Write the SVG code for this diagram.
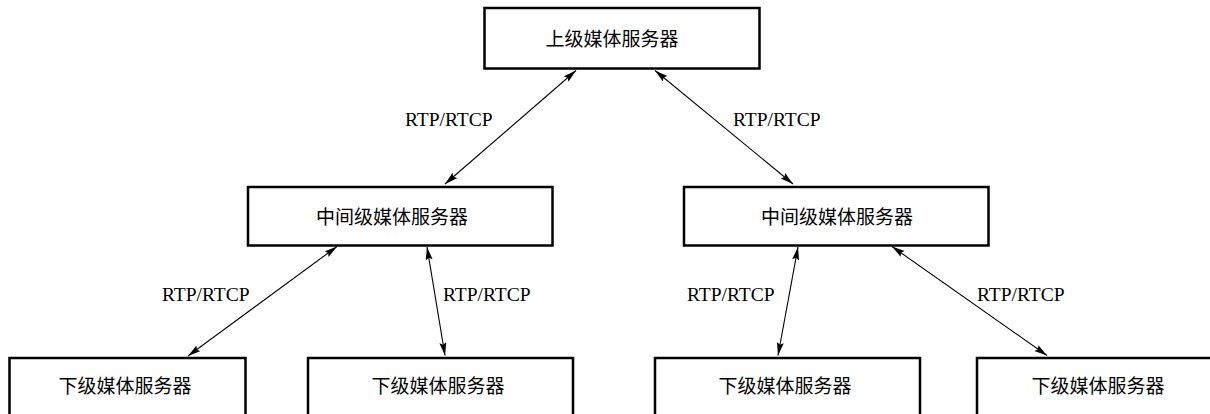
<svg xmlns="http://www.w3.org/2000/svg" width="1210" height="414" viewBox="0 0 1210 414">
<style>
.box{fill:#fff;stroke:#000;stroke-width:2.5}
.cn{font-family:"Noto Sans CJK SC","Noto Sans",sans-serif;font-size:19px;fill:#000;text-anchor:middle}
.lbl{font-family:"Liberation Serif","Times New Roman",serif;font-size:19.5px;fill:#000}
.con{stroke:#000;stroke-width:1.1;fill:none;marker-start:url(#ah);marker-end:url(#ah)}
</style>
<defs>
<marker id="ah" markerUnits="userSpaceOnUse" markerWidth="14" markerHeight="8" refX="13" refY="3.5" orient="auto-start-reverse">
<path d="M0,0 L13,3.5 L0,7 L2,3.5 z" fill="#000"/>
</marker>
</defs>
<g id="connectors">
<line class="con" x1="445" y1="184" x2="576" y2="70.5"/>
<line class="con" x1="655" y1="70.5" x2="793" y2="184"/>
<line class="con" x1="337" y1="246.5" x2="188" y2="356"/>
<line class="con" x1="427" y1="247" x2="445" y2="355.5"/>
<line class="con" x1="798" y1="247" x2="778" y2="355.5"/>
<line class="con" x1="892" y1="246.5" x2="1047" y2="355.5"/>
</g>
<g id="labels">
<text class="lbl" x="405" y="126">RTP/RTCP</text>
<text class="lbl" x="733" y="126">RTP/RTCP</text>
<text class="lbl" x="162" y="301">RTP/RTCP</text>
<text class="lbl" x="443" y="301">RTP/RTCP</text>
<text class="lbl" x="687" y="301">RTP/RTCP</text>
<text class="lbl" x="977" y="301">RTP/RTCP</text>
</g>
<g id="top-server">
<rect class="box" x="484.5" y="8" width="275" height="60.5"/>
<text class="cn" x="612" y="46">上级媒体服务器</text>
</g>
<g id="mid-server-left">
<rect class="box" x="248" y="187" width="304.5" height="58.5"/>
<text class="cn" x="392" y="224">中间级媒体服务器</text>
</g>
<g id="mid-server-right">
<rect class="box" x="684" y="187" width="304.5" height="58.5"/>
<text class="cn" x="837" y="224">中间级媒体服务器</text>
</g>
<g id="low-server-1">
<rect class="box" x="9.5" y="358" width="236" height="80"/>
<text class="cn" x="125" y="393">下级媒体服务器</text>
</g>
<g id="low-server-2">
<rect class="box" x="308" y="358" width="265" height="80"/>
<text class="cn" x="438" y="393">下级媒体服务器</text>
</g>
<g id="low-server-3">
<rect class="box" x="655" y="358" width="265" height="80"/>
<text class="cn" x="785" y="393">下级媒体服务器</text>
</g>
<g id="low-server-4">
<rect class="box" x="977" y="358" width="260" height="80"/>
<text class="cn" x="1098" y="393">下级媒体服务器</text>
</g>
</svg>
